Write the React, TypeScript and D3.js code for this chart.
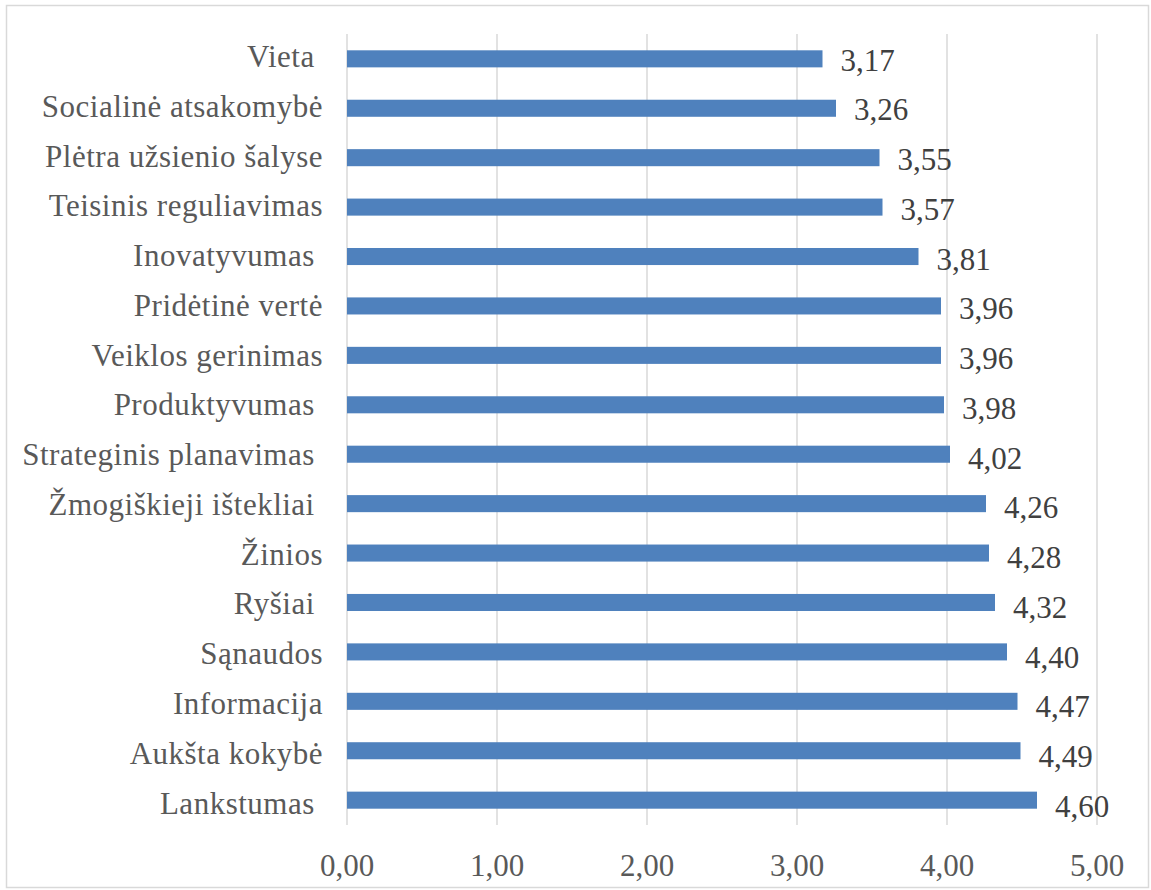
import React from "react";
import * as d3 from "d3";

const categories = [
  "Vieta ",
  "Socialinė atsakomybė",
  "Plėtra užsienio šalyse",
  "Teisinis reguliavimas",
  "Inovatyvumas ",
  "Pridėtinė vertė",
  "Veiklos gerinimas",
  "Produktyvumas ",
  "Strateginis planavimas ",
  "Žmogiškieji ištekliai ",
  "Žinios",
  "Ryšiai ",
  "Sąnaudos",
  "Informacija",
  "Aukšta kokybė",
  "Lankstumas ",
];
const values = [3.17, 3.26, 3.55, 3.57, 3.81, 3.96, 3.96, 3.98, 4.02, 4.26, 4.28, 4.32, 4.4, 4.47, 4.49, 4.6];
const ticks = [0, 1, 2, 3, 4, 5];

const fmt = (v: number) => v.toFixed(2).replace(".", ",");

export default function App() {
  const W = 1151, H = 890;
  const x = d3.scaleLinear().domain([0, 5]).range([347, 1097]);
  const y = d3.scaleBand<string>().domain(categories).range([34, 825]).paddingInner(0.655).paddingOuter(0.33);
  const labelY = d3.scalePoint<string>().domain(categories).range([67, 813.5]);
  const valueY = d3.scalePoint<string>().domain(categories).range([70.7, 816.7]);
  const font = "'Liberation Serif', 'Times New Roman', serif";
  return (
    <svg width={W} height={H} style={{ position: "absolute", left: 0, top: 0 }}>
      <rect x={0} y={0} width={W} height={H} fill="#fff" />
      <rect x={6.5} y={5.5} width={1142} height={882} fill="none" stroke="#d9d9d9" strokeWidth={1.5} />
      {ticks.map((t) => (
        <line key={t} x1={x(t)} x2={x(t)} y1={34} y2={825} stroke="#d9d9d9" strokeWidth={1.5} />
      ))}
      {categories.map((c, i) => (
        <g key={c}>
          <rect x={x(0)} y={y(c)!} width={x(values[i]) - x(0)} height={y.bandwidth()} fill="#4f81bd" />
          <text
            x={323}
            y={labelY(c)!}
            textAnchor="end"
            fontFamily={font}
            fontSize={31}
            letterSpacing={0.5}
            fill="#595959"
            style={{ whiteSpace: "pre" }}
          >
            {c}
          </text>
          <text x={x(values[i]) + 18} y={valueY(c)!} fontFamily={font} fontSize={31} fill="#404040">
            {fmt(values[i])}
          </text>
        </g>
      ))}
      {ticks.map((t) => (
        <text key={t} x={x(t)} y={876} textAnchor="middle" fontFamily={font} fontSize={31} fill="#595959">
          {fmt(t)}
        </text>
      ))}
    </svg>
  );
}
